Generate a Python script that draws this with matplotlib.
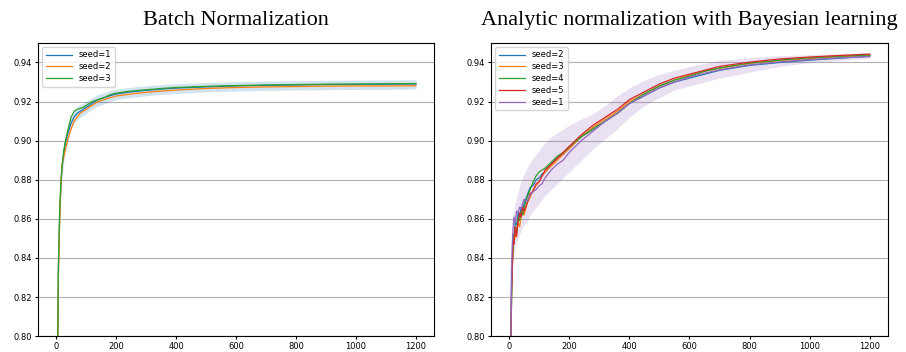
#!/usr/bin/env python3
"""Courbes de precision: Batch Normalization vs normalisation analytique."""

import matplotlib
import numpy as np

matplotlib.use("Agg")
import matplotlib.pyplot as plt  # noqa: E402


BN_STEPS = [5, 8, 12, 16, 20, 25, 30, 40, 50, 60, 70, 80, 90, 100, 120, 140,
            160, 180, 200, 240, 280, 320, 360, 400, 500, 600, 700, 800, 900,
            1000, 1100, 1200]
BN_LABELS = ["seed=1", "seed=2", "seed=3"]
bn_seed1 = [0.790, 0.836, 0.861, 0.877, 0.886, 0.893, 0.898, 0.904, 0.909,
            0.912, 0.914, 0.915, 0.916, 0.917, 0.919, 0.921, 0.922, 0.923,
            0.9238, 0.9248, 0.9254, 0.926, 0.9265, 0.9269, 0.9275, 0.928,
            0.9283, 0.9285, 0.9287, 0.9288, 0.9289, 0.929]
bn_seed2 = [0.790, 0.832, 0.858, 0.876, 0.888, 0.891, 0.895, 0.901, 0.906,
            0.910, 0.912, 0.914, 0.915, 0.916, 0.918, 0.920, 0.921, 0.922,
            0.9228, 0.9237, 0.9244, 0.925, 0.9255, 0.9259, 0.9267, 0.9272,
            0.9275, 0.9277, 0.9279, 0.928, 0.928, 0.9281]
bn_seed3 = [0.790, 0.838, 0.864, 0.879, 0.887, 0.894, 0.899, 0.906, 0.912,
            0.915, 0.916, 0.9165, 0.917, 0.918, 0.920, 0.921, 0.922, 0.9235,
            0.9243, 0.9252, 0.9258, 0.9263, 0.9268, 0.9272, 0.9278, 0.9282,
            0.9285, 0.9287, 0.9289, 0.929, 0.9291, 0.9292]
bn_band_half = [0.005, 0.005, 0.005, 0.0045, 0.0045, 0.004, 0.004, 0.0038,
                0.0036, 0.0035, 0.0034, 0.0033, 0.0032, 0.0031, 0.003, 0.003,
                0.0028, 0.0028, 0.0027, 0.0026, 0.0026, 0.0025, 0.0025, 0.0025,
                0.0024, 0.0024, 0.0024, 0.0024, 0.0024, 0.0024, 0.0024, 0.0024]

AN_STEPS = [5, 8, 10, 13, 16, 20, 25, 30, 35, 40, 45, 50, 60, 70, 80, 90, 100,
            110, 120, 140, 160, 180, 200, 240, 280, 320, 360, 400, 450, 500,
            550, 600, 650, 700, 800, 900, 1000, 1100, 1200]
AN_LABELS = ["seed=2", "seed=3", "seed=4", "seed=5", "seed=1"]
an_seed2 = [0.78, 0.835, 0.834, 0.852, 0.849, 0.858, 0.857, 0.863, 0.861,
            0.866, 0.864, 0.868, 0.872, 0.876, 0.877, 0.880, 0.881, 0.883,
            0.884, 0.888, 0.891, 0.893, 0.896, 0.902, 0.906, 0.910, 0.914,
            0.919, 0.923, 0.927, 0.930, 0.932, 0.934, 0.936, 0.9385, 0.940,
            0.9412, 0.9422, 0.9432]
an_seed3 = [0.78, 0.818, 0.836, 0.842, 0.851, 0.850, 0.855, 0.858, 0.856,
            0.861, 0.864, 0.862, 0.868, 0.871, 0.875, 0.877, 0.879, 0.882,
            0.884, 0.887, 0.890, 0.893, 0.896, 0.902, 0.907, 0.911, 0.915,
            0.920, 0.924, 0.928, 0.931, 0.9335, 0.9355, 0.937, 0.9395, 0.941,
            0.942, 0.943, 0.9438]
an_seed4 = [0.78, 0.815, 0.831, 0.846, 0.848, 0.855, 0.853, 0.861, 0.859,
            0.864, 0.862, 0.866, 0.871, 0.875, 0.879, 0.882, 0.884, 0.885,
            0.886, 0.889, 0.892, 0.894, 0.897, 0.902, 0.906, 0.910, 0.914,
            0.919, 0.924, 0.928, 0.931, 0.933, 0.9355, 0.9372, 0.9397, 0.9412,
            0.9424, 0.9432, 0.9438]
an_seed5 = [0.78, 0.822, 0.829, 0.849, 0.847, 0.856, 0.851, 0.859, 0.863,
            0.861, 0.866, 0.864, 0.868, 0.873, 0.874, 0.878, 0.879, 0.882,
            0.885, 0.888, 0.891, 0.894, 0.897, 0.903, 0.908, 0.912, 0.916,
            0.921, 0.925, 0.929, 0.932, 0.934, 0.936, 0.938, 0.9402, 0.9418,
            0.9428, 0.9436, 0.9443]
an_seed1 = [0.78, 0.826, 0.845, 0.855, 0.861, 0.858, 0.864, 0.863, 0.866,
            0.865, 0.868, 0.870, 0.869, 0.872, 0.874, 0.875, 0.877, 0.878,
            0.881, 0.885, 0.888, 0.890, 0.894, 0.900, 0.905, 0.910, 0.914,
            0.919, 0.923, 0.927, 0.930, 0.9325, 0.9345, 0.9362, 0.9388, 0.9403,
            0.9415, 0.9424, 0.943]
an_band_lo = [0.78, 0.815, 0.828, 0.838, 0.842, 0.846, 0.848, 0.850, 0.852,
              0.854, 0.856, 0.857, 0.859, 0.862, 0.864, 0.866, 0.868, 0.870,
              0.872, 0.875, 0.878, 0.881, 0.884, 0.890, 0.896, 0.901, 0.906,
              0.912, 0.918, 0.922, 0.926, 0.928, 0.930, 0.932, 0.935, 0.938,
              0.940, 0.941, 0.942]
an_band_hi = [0.80, 0.835, 0.848, 0.858, 0.864, 0.868, 0.871, 0.874, 0.877,
              0.879, 0.881, 0.883, 0.886, 0.889, 0.891, 0.893, 0.895, 0.897,
              0.899, 0.902, 0.904, 0.906, 0.908, 0.911, 0.914, 0.918, 0.923,
              0.927, 0.931, 0.934, 0.936, 0.938, 0.9395, 0.941, 0.9425, 0.9435,
              0.944, 0.9445, 0.945]

Y_TICKS = [0.80, 0.82, 0.84, 0.86, 0.88, 0.90, 0.92, 0.94]
X_TICKS = [0, 200, 400, 600, 800, 1000, 1200]

figure = plt.figure(figsize=(9.06, 3.52), dpi=100)
left = figure.add_axes([0.042, 0.045, 0.437, 0.833])
right = figure.add_axes([0.542, 0.045, 0.438, 0.833])

bn_series = [bn_seed1, bn_seed2, bn_seed3]
bn_mean = np.mean(np.array(bn_series), axis=0)
bn_half = np.array(bn_band_half)
left.fill_between(BN_STEPS, bn_mean - bn_half, bn_mean + bn_half,
                  color="C0", alpha=0.2, linewidth=0)
for index, (values, label) in enumerate(zip(bn_series, BN_LABELS)):
    left.plot(BN_STEPS, values, color="C%d" % index, linewidth=0.9, label=label)

an_series = [an_seed2, an_seed3, an_seed4, an_seed5, an_seed1]
right.fill_between(AN_STEPS, an_band_lo, an_band_hi,
                   color="C4", alpha=0.2, linewidth=0)
for index, (values, label) in enumerate(zip(an_series, AN_LABELS)):
    right.plot(AN_STEPS, values, color="C%d" % index, linewidth=0.9, label=label)

titles = ["Batch Normalization", "Analytic normalization with Bayesian learning"]
for axis, title in zip((left, right), titles):
    axis.set_ylim(0.80, 0.95)
    axis.set_xlim(-60, 1260)
    axis.set_yticks(Y_TICKS)
    axis.set_xticks(X_TICKS)
    axis.yaxis.set_major_formatter(matplotlib.ticker.FormatStrFormatter("%.2f"))
    axis.tick_params(labelsize=6, length=2.5, width=0.8, pad=2)
    axis.grid(axis="y", color="#b0b0b0", linewidth=0.8)
    axis.set_axisbelow(True)
    axis.set_title(title, family="Liberation Serif", fontsize=16, pad=13)
    axis.legend(loc="upper left", fontsize=6, handlelength=3.2,
                borderpad=0.4, labelspacing=0.35)

figure.savefig("out.png", dpi=100)
